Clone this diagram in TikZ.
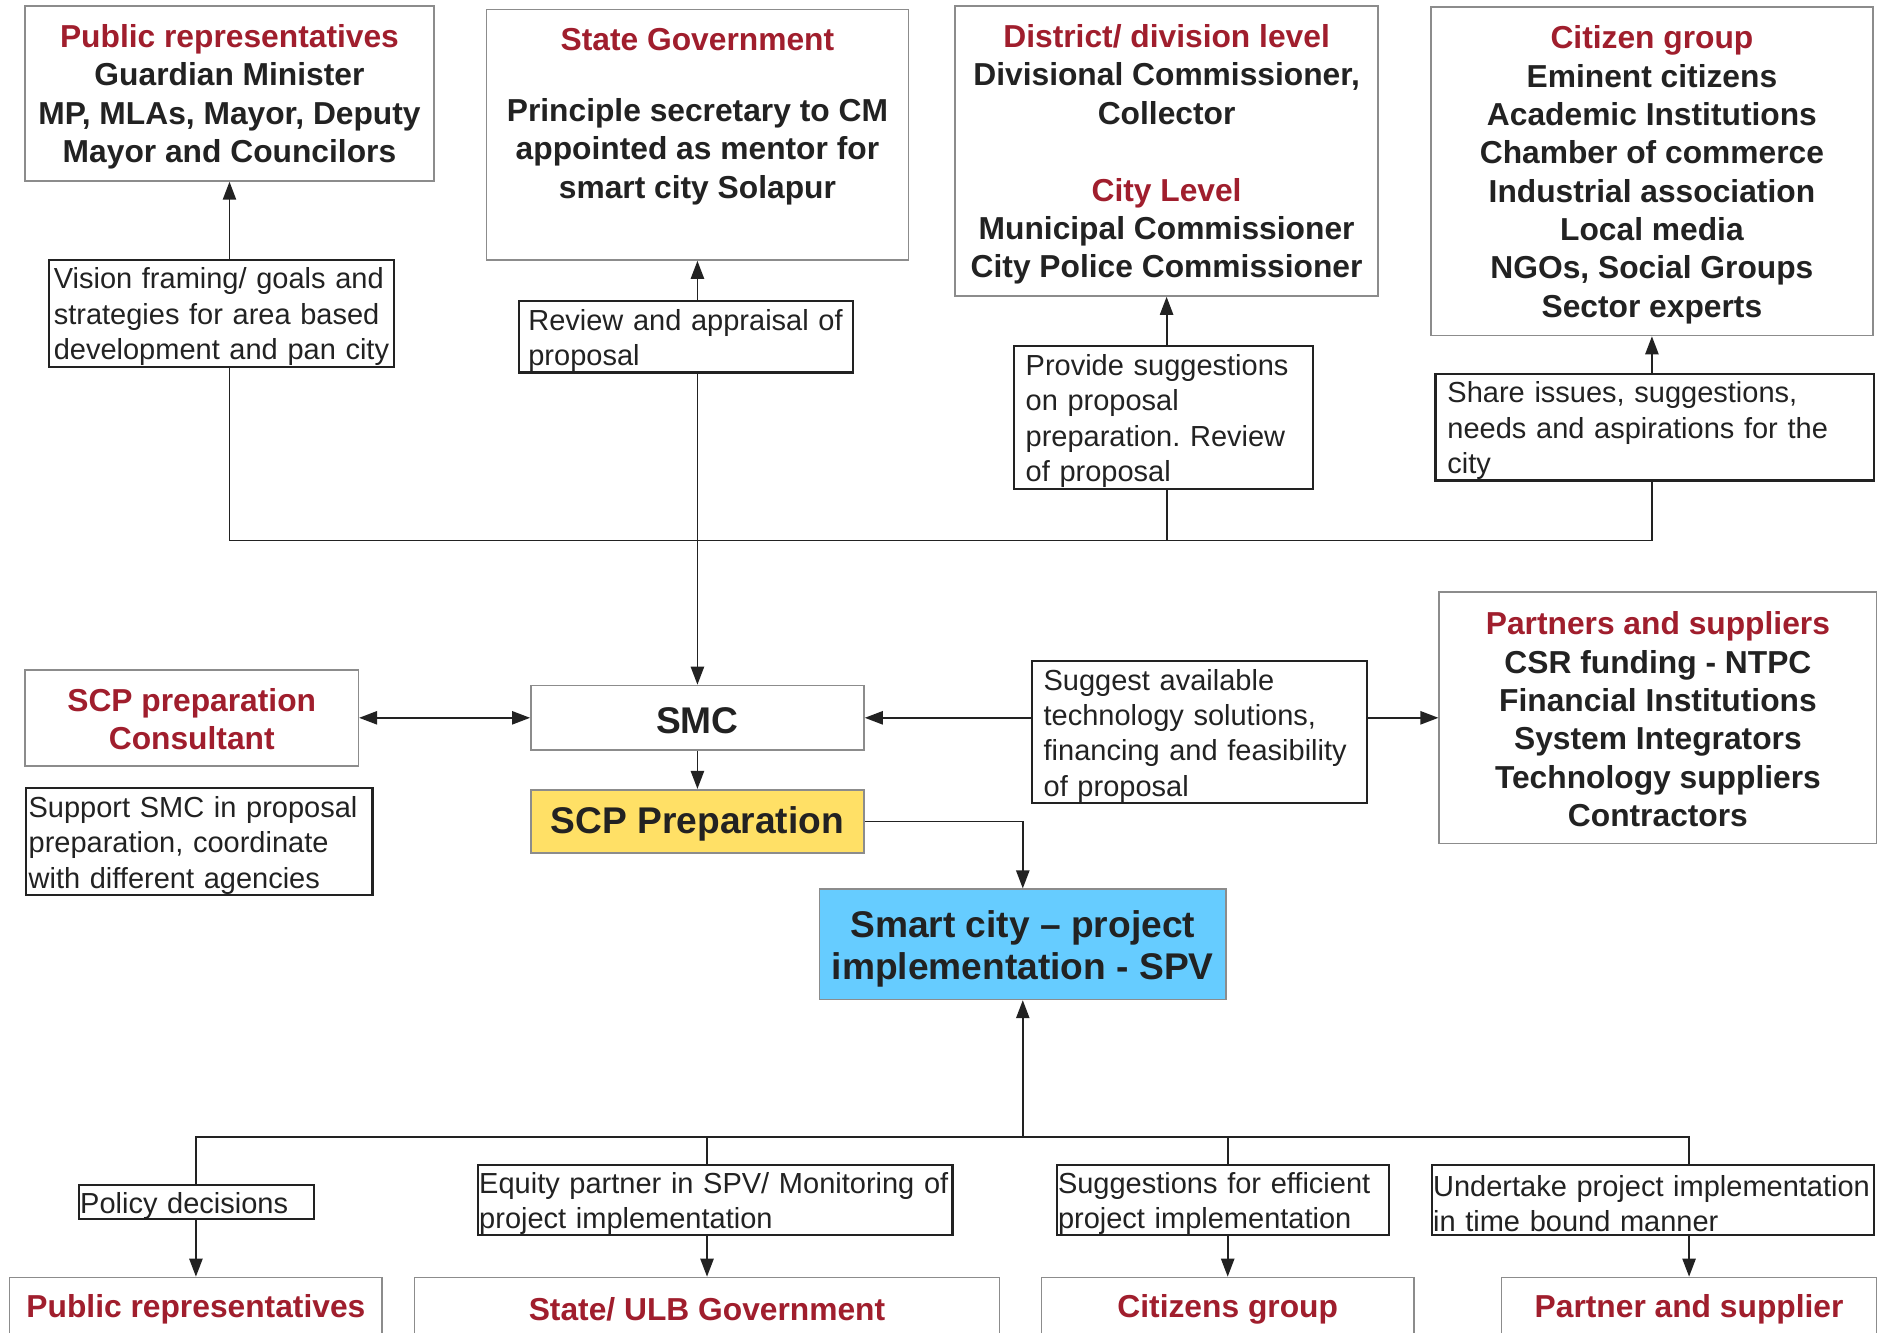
\documentclass[tikz,border=0pt]{standalone}
\usepackage{fontspec}
\setmainfont{Liberation Sans}
\usetikzlibrary{arrows.meta,positioning}

\definecolor{headred}{RGB}{160,30,45}
\definecolor{ink}{RGB}{34,34,34}
\definecolor{framegray}{RGB}{140,140,140}
\definecolor{scpyellow}{RGB}{255,224,102}
\definecolor{spvblue}{RGB}{102,204,255}

\tikzset{
        x=1pt, y=-1pt, % one unit per pixel, y runs down the page
        >={Triangle[length=15pt,width=11pt]}, % filled arrow heads
        flow/.style={draw=ink, line width=1.5pt}, % connectors
    }
\tikzstyle{orgbox}=[draw=framegray,line width=1.3pt,fill=white,align=center,inner sep=0pt,text=ink,font=\fontsize{26.5}{32}\selectfont\bfseries,execute at begin node={\rule{0pt}{23pt}}]
\tikzstyle{keybox}=[orgbox,font=\fontsize{31}{35}\selectfont\bfseries,execute at begin node={\rule{0pt}{26pt}}]
\tikzstyle{note}=[draw=ink,line width=1.8pt,fill=white,align=left,anchor=north west,inner ysep=0pt,text=ink,font=\fontsize{24.2}{29.5}\selectfont,execute at begin node={\frenchspacing\rule{0pt}{23.5pt}}]

\newcommand{\hd}[1]{\textcolor{headred}{#1}}
\newcommand{\lift}[1]{\rule{0pt}{#1}} % pushes the first line down a little

\begin{document}
\begin{tikzpicture}
    \useasboundingbox[fill=white] (0,0) rectangle (1568,1112);

    % stakeholders on top
    \node[orgbox,minimum width=341pt,minimum height=146pt] (pubrep) at (191.5,78)
        {\lift{25pt}\hd{Public representatives}\\Guardian Minister\\MP, MLAs, Mayor, Deputy\\Mayor and Councilors};
    \node[orgbox,minimum width=352pt,minimum height=209pt] (stategov) at (582,112.5)
        {\lift{25pt}\hd{State Government}\\[27pt]Principle secretary to CM\\appointed as mentor for\\smart city Solapur\\[10pt]\mbox{}};
    \node[orgbox,minimum width=353pt,minimum height=242pt] (district) at (973.5,126)
        {\lift{25pt}\hd{District/ division level}\\Divisional Commissioner,\\Collector\\[32pt]\hd{City Level}\\Municipal Commissioner\\City Police Commissioner};
    \node[orgbox,minimum width=369pt,minimum height=274pt] (citizen) at (1378.5,143)
        {\lift{25pt}\hd{Citizen group}\\Eminent citizens\\Academic Institutions\\Chamber of commerce\\Industrial association\\Local media\\NGOs, Social Groups\\Sector experts};

    % roles of the top stakeholders
    \node[note,inner xsep=4pt,text width=280pt,minimum height=89pt] (vision) at (40,216)
        {Vision framing/ goals and\\strategies for area based\\development and pan city};
    \node[note,inner xsep=8pt,text width=263pt,minimum height=60pt] (review) at (432,250)
        {Review and appraisal of\\proposal};
    \node[note,inner xsep=10pt,text width=230pt,minimum height=119pt] (provide) at (845,288)
        {Provide suggestions\\on proposal\\preparation. Review\\of proposal};
    \node[note,inner xsep=10pt,text width=346pt,minimum height=89pt] (share) at (1197,311)
        {Share issues, suggestions,\\needs and aspirations for the\\city};

    % middle row
    \node[orgbox,text=headred,minimum width=278pt,minimum height=80pt] (consult) at (160,599)
        {\lift{21.5pt}SCP preparation\\Consultant};
    \node[keybox,minimum width=278pt,minimum height=54pt] (smc) at (582,599) {SMC};
    \node[keybox,fill=scpyellow,minimum width=278pt,minimum height=53pt] (scp) at (582,685.5) {SCP Preparation};
    \node[orgbox,minimum width=365pt,minimum height=210pt] (partners) at (1383.5,599)
        {\lift{21.5pt}\hd{Partners and suppliers}\\CSR funding - NTPC\\Financial Institutions\\System Integrators\\Technology suppliers\\Contractors};
    \node[note,inner xsep=2pt,text width=285pt,minimum height=89pt] (support) at (21,657)
        {Support SMC in proposal\\preparation, coordinate\\with different agencies};
    \node[note,inner xsep=10pt,text width=260pt,minimum height=118pt] (suggest) at (860,551)
        {Suggest available\\technology solutions,\\financing and feasibility\\of proposal};
    \node[keybox,fill=spvblue,minimum width=339pt,minimum height=92pt] (spv) at (853.5,788)
        {\lift{30pt}Smart city -- project\\implementation - SPV};

    % implementation partners
    \node[note,inner xsep=1pt,text width=194pt,minimum height=28pt] (policy) at (65,988) {Policy decisions};
    \node[note,inner xsep=1pt,text width=394pt,minimum height=59pt] (equity) at (398,971)
        {Equity partner in SPV/ Monitoring of\\project implementation};
    \node[note,inner xsep=1pt,text width=275pt,minimum height=59pt] (efficient) at (881,971)
        {Suggestions for efficient\\project implementation};
    \node[note,inner xsep=1pt,text width=367pt,minimum height=59pt] (undertake) at (1194,971)
        {Undertake project implementation\\in time bound manner};

    \node[orgbox,text=headred,minimum width=311pt,minimum height=50pt] (pubrep2) at (163.5,1091) {Public representatives};
    \node[orgbox,text=headred,minimum width=488pt,minimum height=50pt] (ulbgov) at (590,1091) {State/ ULB Government};
    \node[orgbox,text=headred,minimum width=311pt,minimum height=50pt] (citizen2) at (1024.5,1091) {Citizens group};
    \node[orgbox,text=headred,minimum width=313pt,minimum height=50pt] (partner2) at (1409.5,1091) {Partner and supplier};

    % connectors above SMC
    \coordinate (hub) at (582,451);
    \draw[flow,->] (pubrep.south |- vision.north) -- (pubrep.south);
    \draw[flow,->] (stategov.south |- review.north) -- (stategov.south);
    \draw[flow,->] (district.south |- provide.north) -- (district.south);
    \draw[flow,->] (citizen.south |- share.north) -- (citizen.south);
    \draw[flow] (pubrep.south |- vision.south) |- (hub);
    \draw[flow] (district.south |- provide.south) |- (hub);
    \draw[flow] (citizen.south |- share.south) |- (hub);
    \draw[flow,->] (stategov.south |- review.south) -- (smc.north);

    % connectors round SMC
    \draw[flow,<->] (consult.east) -- (smc.west);
    \draw[flow,->] (suggest.west |- smc.east) -- (smc.east);
    \draw[flow,->] (suggest.east |- partners.west) -- (partners.west);
    \draw[flow,->] (smc.south) -- (scp.north);
    \draw[flow,->] (scp.east) -| (spv.north);

    % connectors below SPV
    \coordinate (bus) at (853.5,949);
    \draw[flow,->] (bus) -- (spv.south);
    \draw[flow] (bus) -| (pubrep2.north |- policy.north);
    \draw[flow] (bus) -| (ulbgov.north |- equity.north);
    \draw[flow] (bus) -| (citizen2.north |- efficient.north);
    \draw[flow] (bus) -| (partner2.north |- undertake.north);
    \draw[flow,->] (pubrep2.north |- policy.south) -- (pubrep2.north);
    \draw[flow,->] (ulbgov.north |- equity.south) -- (ulbgov.north);
    \draw[flow,->] (citizen2.north |- efficient.south) -- (citizen2.north);
    \draw[flow,->] (partner2.north |- undertake.south) -- (partner2.north);
\end{tikzpicture}
\end{document}
